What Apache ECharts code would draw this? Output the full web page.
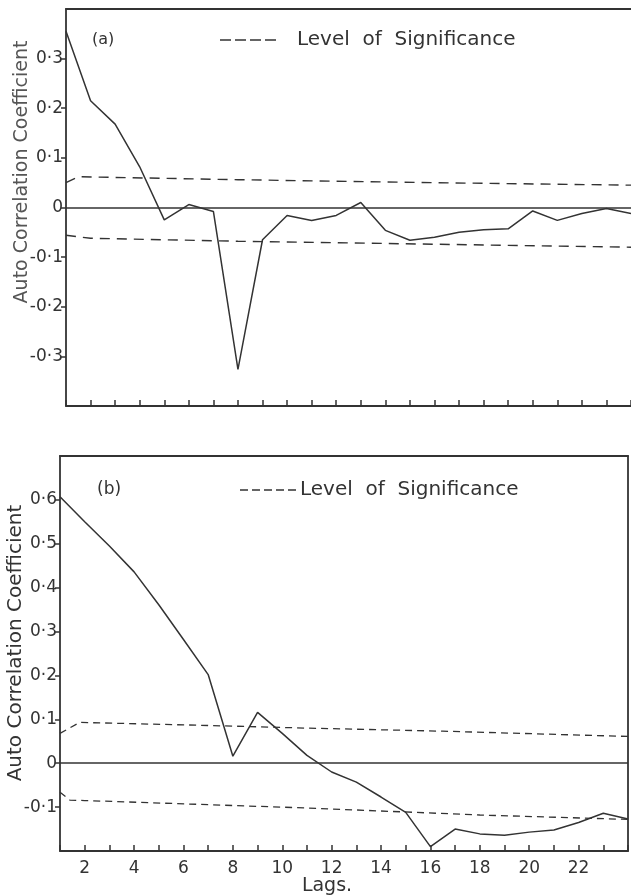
<!DOCTYPE html>
<html lang="en">
  <head>
    <meta charset="UTF-8" />
    <title>Auto Correlation Coefficient</title>
    <script src="https://cdn.jsdelivr.net/npm/echarts@6.0.0/dist/echarts.min.js"></script>
    <style>
      html, body { margin: 0; padding: 0; background: #fff; }
    </style>
  </head>
  <body>
    <div id="chart" style="width: 631px; height: 895px"></div>
    <script>
      const lags = [1, 2, 3, 4, 5, 6, 7, 8, 9, 10, 11, 12, 13, 14, 15, 16, 17, 18, 19, 20, 21, 22, 23, 24];
      // panel (a)
      const acfA = [0.355, 0.215, 0.168, 0.082, -0.025, 0.006, -0.008, -0.326, -0.065, -0.016, -0.026, -0.016,
        0.010, -0.046, -0.066, -0.060, -0.050, -0.045, -0.043, -0.007, -0.026, -0.012, -0.002, -0.012];
      const sigUpperA = [[1, 0.05], [1.5, 0.062], [8, 0.056], [16, 0.05], [24, 0.045]];
      const sigLowerA = [[1, -0.056], [2, -0.062], [8, -0.068], [16, -0.074], [24, -0.08]];
      // panel (b)
      const acfB = [0.607, 0.55, 0.495, 0.436, 0.361, 0.282, 0.202, 0.016, 0.116, 0.068, 0.018, -0.02,
        -0.043, -0.077, -0.112, -0.19, -0.15, -0.161, -0.164, -0.157, -0.152, -0.135, -0.114, -0.127];
      const sigUpperB = [[1, 0.068], [1.8, 0.093], [7, 0.086], [11, 0.08], [16.5, 0.073], [24, 0.061]];
      const sigLowerB = [[1, -0.066], [1.4, -0.084], [2, -0.085], [11, -0.102], [18, -0.118], [24, -0.128]];
      const xLabelsB = [2, 4, 6, 8, 10, 12, 14, 16, 18, 20, 22];

      const ink = "#333";
      const font = "DejaVu Sans";

      const chart = echarts.init(document.getElementById("chart"));

      const fmtY = (v) => {
        if (Math.abs(v) < 1e-9) return "0";
        return v.toFixed(1).replace(".", "·");
      };

      const baseY = (gridIndex, min, max) => ({
        type: "value",
        gridIndex: gridIndex,
        min: min,
        max: max,
        interval: 0.1,
        splitLine: { show: false },
        axisLine: { show: true, onZero: false, lineStyle: { color: ink, width: 1.8 } },
        axisTick: { show: true, inside: false, length: 5, lineStyle: { color: ink, width: 1.5 } },
        axisLabel: {
          formatter: fmtY,
          showMinLabel: false,
          showMaxLabel: false,
          color: ink,
          fontFamily: font,
          fontSize: 17,
          margin: 3,
        },
      });

      const borderAxis = (gridIndex, min, max, position) => ({
        type: "value",
        gridIndex: gridIndex,
        position: position,
        min: min,
        max: max,
        axisLine: { show: true, onZero: false, lineStyle: { color: ink, width: 1.8 } },
        axisTick: { show: false },
        axisLabel: { show: false },
        splitLine: { show: false },
      });

      const zeroLine = {
        silent: true,
        symbol: "none",
        label: { show: false },
        lineStyle: { color: ink, width: 1.6, type: "solid" },
        data: [{ yAxis: 0 }],
      };

      const line = (name, xi, data, extra) =>
        Object.assign(
          {
            name: name,
            type: "line",
            xAxisIndex: xi,
            yAxisIndex: xi,
            data: data,
            symbol: "none",
            showSymbol: false,
            animation: false,
            lineStyle: { color: ink, width: 1.5 },
          },
          extra || {}
        );

      const legendItem = (x1, x2, y, dash, tx) => [
        { type: "line", shape: { x1: x1, y1: y, x2: x2, y2: y }, style: { stroke: ink, lineWidth: 1.5, lineDash: dash } },
        { type: "text", x: tx, y: y, style: { text: "Level  of  Significance", fill: ink, font: "20px " + font, textVerticalAlign: "middle" } },
      ];

      const option = {
        animation: false,
        grid: [
          { left: 66, right: 0, top: 9, height: 397 },
          { left: 60, right: 1, top: 456, height: 395 },
        ],
        xAxis: [
          {
            type: "value",
            gridIndex: 0,
            min: 1,
            max: 24,
            interval: 1,
            splitLine: { show: false },
            axisLine: { onZero: false, lineStyle: { color: ink, width: 1.8 } },
            axisTick: { inside: true, length: 6, lineStyle: { color: ink, width: 1.5 } },
            axisLabel: { show: false },
          },
          {
            type: "value",
            gridIndex: 1,
            min: 1,
            max: 24,
            interval: 1,
            splitLine: { show: false },
            axisLine: { onZero: false, lineStyle: { color: ink, width: 1.8 } },
            axisTick: { inside: true, length: 6, lineStyle: { color: ink, width: 1.5 } },
            axisLabel: {
              color: ink,
              fontFamily: font,
              fontSize: 17,
              margin: 9,
              formatter: (v) => (xLabelsB.indexOf(v) >= 0 ? String(v) : ""),
            },
          },
          // top borders
          borderAxis(0, 1, 24, "top"),
          borderAxis(1, 1, 24, "top"),
        ],
        yAxis: [
          baseY(0, -0.4, 0.4),
          baseY(1, -0.2, 0.7),
          // right border of panel (b)
          borderAxis(1, -0.2, 0.7, "right"),
        ],
        series: [
          line("ACF A", 0, lags.map((l, i) => [l, acfA[i]]), { markLine: zeroLine }),
          line("Level of Significance", 0, sigUpperA, { lineStyle: { color: ink, width: 1.4, type: [10, 7] } }),
          line("Level of Significance", 0, sigLowerA, { lineStyle: { color: ink, width: 1.4, type: [10, 7] } }),
          line("ACF B", 1, lags.map((l, i) => [l, acfB[i]]), { markLine: zeroLine }),
          line("Level of Significance", 1, sigUpperB, { lineStyle: { color: ink, width: 1.3, type: [7, 5] } }),
          line("Level of Significance", 1, sigLowerB, { lineStyle: { color: ink, width: 1.3, type: [7, 5] } }),
        ],
        graphic: [
          ...legendItem(220, 278, 40, [11, 4], 297),
          ...legendItem(240, 297, 490, [8, 4], 300),
          { type: "text", x: 92, y: 40, style: { text: "(a)", fill: ink, font: "16px " + font, textVerticalAlign: "middle" } },
          { type: "text", x: 97, y: 490, style: { text: "(b)", fill: ink, font: "17px " + font, textVerticalAlign: "middle" } },
          {
            type: "text", x: 22, y: 172, rotation: Math.PI / 2,
            style: { text: "Auto Correlation Coefficient", fill: "#555", font: "19px " + font, textAlign: "center", textVerticalAlign: "middle" },
          },
          {
            type: "text", x: 16, y: 643, rotation: Math.PI / 2,
            style: { text: "Auto Correlation Coefficient", fill: ink, font: "20px " + font, textAlign: "center", textVerticalAlign: "middle" },
          },
          { type: "text", x: 327, y: 886, style: { text: "Lags.", fill: ink, font: "19px " + font, textAlign: "center", textVerticalAlign: "middle" } },
        ],
      };

      chart.setOption(option);
    </script>
  </body>
</html>
